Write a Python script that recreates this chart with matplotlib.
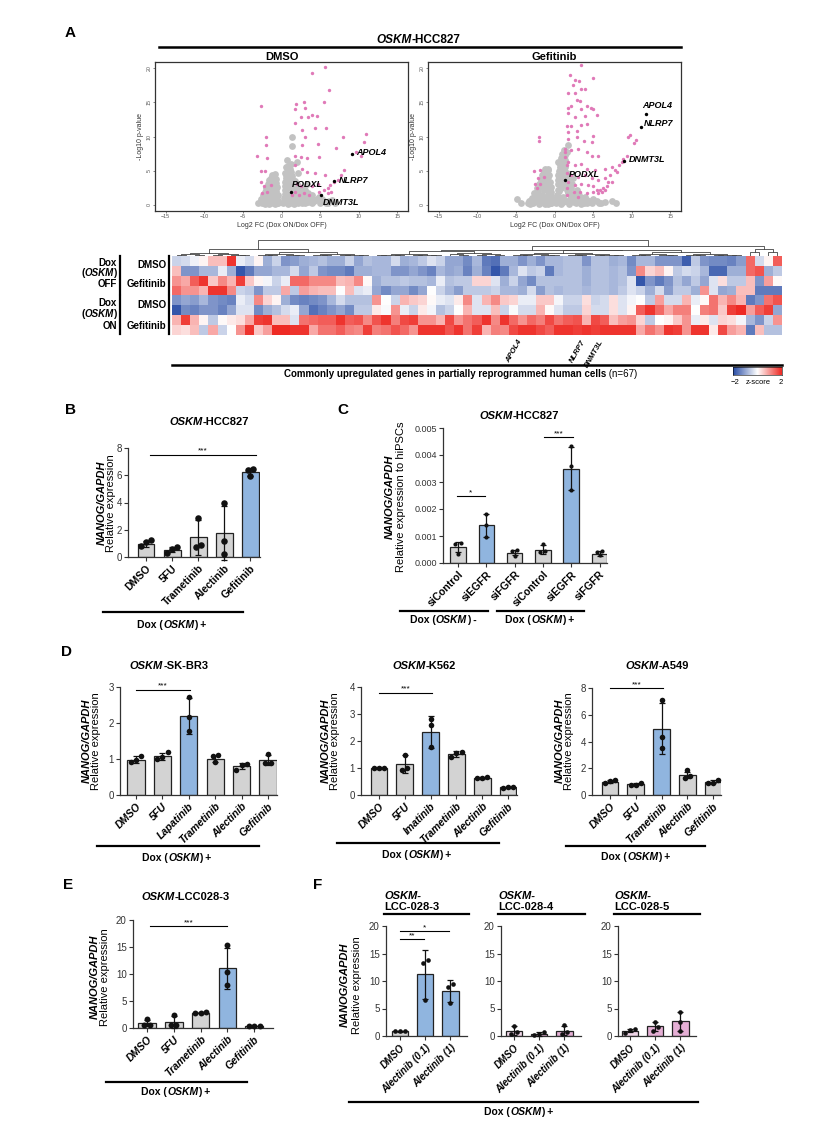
import numpy as np
import matplotlib
matplotlib.use('Agg')
import matplotlib.pyplot as plt
from matplotlib.colors import LinearSegmentedColormap
from matplotlib.lines import Line2D

plt.rcParams['font.family'] = ['Liberation Sans', 'DejaVu Sans']

# ======================= DATA =======================
# --- Volcano, DMSO ---
dmso_pink_x = [5.7, 4.0, 6.1, -2.65, 1.9, 2.9, 5.5, 1.8, 3.1, 4.0, 4.6, 3.4, 2.5, 1.8, 2.6, 4.3, 5.8, 3.0,
               10.9, 8.0, -2.0, 2.7, -2.0, 10.7, 4.7, 7.1, -3.2, 1.8, 2.5, 3.3, 4.9, 9.7, 10.3, -1.9, -2.7,
               -2.1, 1.8, 2.7, 3.3, 4.4, 5.7, 8.1, 7.7, 7.3, 6.8, 6.3, 6.0, 5.5, 4.9, -2.7, -2.3, -1.9, -2.5,
               2.0, 2.5, 1.8, 2.9, 3.6, 1.4, 2.3, 6.0, 6.4, -1.4, 4.0, 4.7]
dmso_pink_y = [20.1, 19.3, 16.8, 14.4, 14.8, 15.0, 15.0, 14.0, 14.1, 13.1, 13.0, 12.8, 12.8, 12.0, 11.0, 11.2,
               11.2, 9.9, 10.4, 9.9, 9.9, 8.7, 8.8, 9.2, 8.9, 8.3, 7.2, 7.2, 7.0, 6.9, 7.0, 7.7, 7.2, 6.8, 4.9,
               4.9, 5.8, 5.3, 4.8, 4.6, 4.3, 5.1, 4.3, 3.6, 3.4, 2.9, 2.4, 2.2, 1.9, 3.4, 2.7, 1.9, 1.7,
               3.1, 2.7, 1.9, 1.7, 1.4, 1.4, 1.4, 1.7, 1.9, 2.9, 2.7, 3.1]
dmso_gray_x = [-3.0, -2.7, -2.5, -2.3, -2.1, -2.0, -1.9, -1.8, -1.7, -1.6, -1.5, -1.4, -1.3, -1.2, -1.1, -1.0,
               -1.0, -0.9, -0.8, -0.8, -0.7, -0.6, -0.5, -0.4, -1.5, -1.2, -0.9, -2.2, -1.6, -1.3, -0.7, -1.9,
               -2.6, -2.4, -2.2, -2.0, -1.8, -1.6, -1.4, -1.2, -1.0, -0.9, -0.8, -0.7, -0.6, -0.5, -1.1, -1.4,
               -1.7, -2.0, -2.4, -1.3, -0.6, -1.8, -1.5, -1.0,
               0.2, 0.3, 0.4, 0.5, 0.6, 0.7, 0.8, 0.9, 1.0, 1.1, 1.2, 1.3, 1.4, 1.5, 1.6, 1.7, 1.8, 2.0, 2.1,
               2.3, 2.4, 2.6, 2.8, 3.0, 3.2, 3.5, 3.8, 4.2, 4.6, 5.0, 5.5, 6.0, 6.5, 7.0, 0.9, 1.6, 2.7, 0.6,
               1.1, 0.7, 1.3, 1.4, 2.0, 2.2, 1.2, 3.3, 0.5,
               0.3, 0.4, 0.5, 0.6, 0.7, 0.9, 1.0, 1.1, 1.2, 1.3, 1.5, 1.6, 1.8, 1.9, 2.0, 2.2, 2.4, 2.6, 2.9,
               3.1, 3.4, 3.6, 4.0, 4.4, 4.8, 5.2, 5.8, 6.2, 0.8, 1.4, 2.1, 3.0, 4.0, 0.4, 0.6, 0.9, 1.2]
dmso_gray_y = [0.3, 0.6, 0.2, 1.0, 0.5, 1.6, 0.2, 2.2, 1.0, 2.8, 0.4, 3.3, 1.8, 3.8, 2.5, 4.2,
               1.2, 3.6, 0.5, 2.9, 2.0, 1.2, 0.6, 0.2, 1.5, 0.6, 0.1, 0.1, 0.1, 2.6, 3.8, 1.2,
               0.9, 1.4, 1.9, 2.4, 3.0, 3.6, 4.0, 4.3, 3.0, 4.5, 1.6, 3.2, 2.6, 1.4, 0.3, 1.2,
               1.9, 0.8, 0.4, 0.9, 0.3, 0.4, 2.2, 2.0,
               0.2, 1.0, 2.2, 3.4, 4.3, 0.5, 5.0, 2.8, 4.6, 1.5, 3.8, 0.4, 4.2, 2.3, 3.1, 0.9, 3.5, 1.8, 2.8,
               0.6, 2.2, 1.4, 2.0, 0.8, 1.5, 0.4, 1.1, 0.5, 0.9, 0.3, 0.6, 0.2, 0.7, 0.3, 0.1, 0.1, 0.2, 1.7,
               5.2, 6.6, 8.6, 10.0, 6.2, 4.6, 6.0, 3.0, 0.4,
               0.6, 1.6, 2.8, 3.9, 4.8, 4.1, 3.3, 2.4, 1.0, 2.9, 3.6, 1.5, 2.6, 1.2, 3.0, 2.0, 1.0, 2.5, 1.2,
               2.2, 1.8, 0.9, 1.4, 0.7, 1.2, 0.8, 0.3, 0.5, 1.2, 0.2, 0.3, 0.3, 0.2, 4.6, 5.6, 5.7, 4.8]
dmso_genes = ['APOL4', 'NLRP7', 'PODXL', 'DNMT3L']
dmso_gene_x = [9.1, 6.8, 1.2, 5.1]
dmso_gene_y = [7.5, 3.5, 1.9, 1.4]

# --- Volcano, Gefitinib ---
gef_pink_x = [3.5, 2.0, 2.7, 3.2, 5.0, 2.4, 1.8, 2.7, 3.5, 3.9, 2.9, 1.8, 3.5, 4.7, 5.0, 1.7, 2.7, 4.0, 5.5,
              1.6, 2.2, 3.5, 4.2, 1.7, 2.9, 5.0, 4.8, 1.8, 2.9, 3.8, 9.8, 9.5, 10.3, 10.6, -2.0, -2.0, 1.4,
              2.2, 3.1, 4.2, 4.8, 5.7, 9.4, 8.7, 8.3, 7.4, 6.6, 7.8, 1.4, 1.8, 2.7, 3.5, 4.2, 5.3, -2.7, -1.9,
              -2.1, -1.4, -2.5, -1.9, -2.3, 1.6, 2.2, 3.1, 4.0, 4.8, 5.7, 6.6, 7.2, 7.4, 1.8, 2.7, 3.5, 4.4,
              5.0, 5.9, 6.8, 1.6, 2.5, 3.3, 4.2, 5.0, 5.5, 6.1, 6.6, 1.6, 3.1, 5.7, 6.3, 7.0, 8.1, 8.9, 1.4,
              1.6, 2.2, 4.2, 3.3]
gef_pink_y = [20.5, 19.0, 18.3, 18.1, 18.6, 17.6, 16.4, 16.4, 17.0, 16.9, 15.4, 14.2, 14.0, 14.1, 14.0, 13.5,
              12.8, 13.0, 13.1, 11.6, 11.6, 11.7, 11.8, 10.6, 10.8, 10.1, 9.2, 9.6, 9.9, 9.4, 10.2, 10.0, 9.1,
              9.5, 9.9, 9.4, 8.2, 8.0, 8.2, 7.7, 7.2, 7.2, 7.2, 6.3, 5.8, 5.5, 5.3, 5.1, 7.0, 6.3, 5.8, 6.0,
              5.3, 5.1, 4.9, 5.1, 3.9, 4.1, 3.1, 3.1, 2.4, 4.6, 4.3, 4.1, 4.3, 3.9, 3.6, 3.9, 4.3, 3.4, 3.4,
              2.9, 3.1, 2.9, 2.7, 2.2, 2.7, 2.4, 1.9, 1.9, 1.7, 1.9, 2.2, 1.9, 2.2, 1.4, 1.2, 1.7, 2.4, 3.4,
              4.8, 6.7, 7.7, 5.8, 14.5, 14.5, 15.2]
gef_gray_x = [-3.5, -3.0, -2.8, -2.5, -2.3, -2.1, -1.9, -1.8, -1.6, -1.5, -1.4, -1.3, -1.2, -1.1, -1.0, -0.9,
              -0.9, -0.8, -0.7, -0.6, -0.5, -0.4, -0.3, -2.0, -1.2, -1.7, -1.0, -0.8, -4.8, -4.4, -3.2,
              -3.3, -2.9, -2.6, -2.3, -2.0, -1.8, -1.6, -1.4, -1.2, -1.0, -0.9, -0.8, -0.7, -0.6, -0.5, -0.4,
              -1.1, -1.4, -1.7, -2.0, -2.5, -1.3, -0.6, -1.9, -0.5, -1.0, -3.0,
              0.2, 0.3, 0.4, 0.5, 0.6, 0.7, 0.8, 0.9, 1.0, 1.1, 1.2, 1.3, 1.4, 1.5, 1.6, 1.7, 1.8, 2.0, 2.2,
              2.5, 2.8, 3.0, 3.4, 3.8, 4.2, 4.8, 5.5, 6.0, 0.9, 1.9, 1.0, 1.6, 1.8, 1.4, 2.4, 7.5, 8.0, 0.6,
              1.2, 3.5,
              0.3, 0.4, 0.5, 0.6, 0.7, 0.8, 0.9, 1.0, 1.1, 1.2, 1.3, 1.4, 1.5, 1.6, 1.7, 1.9, 2.1, 2.3, 2.6,
              2.9, 3.2, 3.6, 4.0, 4.5, 5.0, 5.8, 6.5, 0.6, 1.1, 2.0, 2.8, 4.2, 0.5, 1.0, 1.2]
gef_gray_y = [0.3, 0.7, 0.2, 1.3, 0.5, 2.0, 0.9, 2.8, 1.5, 3.5, 0.4, 4.2, 2.4, 4.8, 3.3, 5.1,
              1.4, 4.1, 2.7, 0.8, 1.9, 0.3, 0.9, 0.1, 0.1, 0.8, 2.1, 0.1, 0.9, 0.3, 0.1,
              0.6, 1.0, 1.7, 2.4, 3.0, 3.7, 4.3, 4.8, 5.2, 4.4, 3.0, 5.3, 4.4, 3.4, 2.6, 1.3,
              1.2, 2.2, 2.7, 1.5, 0.6, 3.1, 1.9, 0.3, 0.2, 0.5, 0.2,
              0.3, 1.5, 3.0, 4.3, 0.6, 5.5, 2.4, 6.3, 4.0, 1.2, 5.2, 6.6, 2.9, 0.5, 4.6, 1.8, 3.3, 0.9, 2.4,
              0.4, 1.5, 0.6, 1.0, 0.3, 0.7, 0.3, 0.5, 0.2, 0.1, 0.1, 6.6, 7.8, 8.8, 7.3, 4.0, 0.6, 0.3, 2.0,
              3.6, 0.1,
              0.8, 2.2, 3.6, 5.0, 6.0, 6.8, 5.3, 3.0, 4.7, 6.1, 4.3, 5.5, 3.8, 2.2, 3.8, 2.6, 1.6, 3.0, 1.2,
              2.2, 1.5, 0.6, 1.1, 0.5, 0.8, 0.3, 0.4, 1.1, 0.4, 0.4, 0.3, 0.2, 6.3, 7.4, 8.0]
gef_genes = ['APOL4', 'NLRP7', 'DNMT3L', 'PODXL']
gef_gene_x = [11.9, 11.2, 9.0, 1.3]
gef_gene_y = [13.3, 11.4, 6.4, 3.6]

# --- Heatmap (z-scores, 67 genes) ---
hm_off_dmso_1 = [-0.5, -0.4, -0.15, 0.1, 0.6, 0.6, 1.9, -0.2, -0.4, 0.1, -0.9, -0.5, -1.2, -1.1, -0.9, -0.8, -0.7, -0.9, -0.9, -0.5, -1.0, -0.7,
                 -0.8, -0.8, -0.4, -0.9, -0.8, -0.6, -0.3, -0.5, -1.0, -1.0, -1.3, -0.8, -1.5, -1.6, -0.9, -0.9, -1.2, -0.9, -1.2, -0.8, -0.8, -0.7, -0.7,
                 -1.2, -0.7, -0.7, -0.9, -0.8, -1.3, -0.8, -0.8, -1.2, -1.2, -1.2, -1.8, -0.6, -1.2, -1.3, -1.3, -1.4, -1.1, 1.4, -0.4, 0.1, 1.5]
hm_off_dmso_2 = [0.6, -1.2, -1.2, -0.8, -0.8, -0.2, -0.9, -1.9, -1.5, -1.0, -1.0, -0.8, -0.8, -0.4, -1.0, -0.6, -1.2, -1.3, -1.3, -1.5, -0.9, -0.9,
                 -0.8, -0.8, -1.2, -1.2, -1.0, -1.2, -1.4, -0.8, -1.0, -0.9, -1.4, -0.9, -1.4, -1.9, -1.5, -0.8, -0.3, -0.6, -0.5, -1.5, -0.8, -0.7, -0.7,
                 -0.9, -0.7, -0.7, -0.8, -0.7, -1.2, 1.1, 0.4, 0.6, 0.1, -0.6, -0.4, -0.5, -0.8, -1.7, -1.7, -0.9, -0.9, 1.4, 1.6, -0.9, -0.6]
hm_off_gef_1 = [1.0, 0.8, 1.5, 1.9, 0.5, 1.1, 0.7, 1.8, 0.5, 0.1, -0.1, -0.5, -0.2, 1.4, 1.4, 1.1, 1.1, 1.1, 0.6, 0.7, 1.1, 0.05,
                -0.9, -0.7, -0.7, -0.6, -0.7, -0.7, -0.8, -0.2, -0.7, -0.6, -0.6, 0.4, 0.4, -0.3, -0.9, -0.5, -1.0, -1.3, -0.7, -0.7, -0.7, -0.7, -0.7,
                -0.9, -0.7, -0.7, -0.8, -0.7, -0.3, -1.9, -1.2, -1.5, -1.2, -0.7, -1.0, -0.6, -1.0, -0.3, 0.3, -0.6, -0.6, 0.6, -1.2, 0.9, 0.05]
hm_off_gef_2 = [1.4, 1.0, 1.0, 0.7, 1.9, 1.9, 1.1, -0.5, -0.6, -1.2, -0.6, -0.6, 0.8, -0.6, 0.9, 0.7, 0.6, 0.6, 0.0, 0.6, -0.3, -0.2,
                -1.0, -1.3, -1.0, -1.0, -1.3, -1.0, 0.0, -0.5, -0.8, -1.1, -0.6, -0.6, -0.6, -0.5, -0.8, -0.8, -0.9, -0.4, -1.1, -0.7, -0.8, -0.7, -0.7,
                -0.8, -0.7, -0.7, -0.8, -0.6, -0.3, -0.5, -0.9, -0.4, -1.1, -0.6, -0.6, -0.9, 1.0, -0.3, -1.0, -0.9, 0.6, 0.6, -1.5, -1.5, -1.5]
hm_on_dmso_1 = [-1.2, -1.0, -1.1, -0.8, -1.2, -1.3, -1.4, -0.2, -0.4, 1.1, 0.4, 0.1, -0.9, -1.3, -1.4, -1.3, -1.2, -0.8, -0.4, -0.7, -0.7, -0.7,
                1.0, 0.0, -0.5, 0.7, 0.5, 0.4, 0.05, -0.2, -0.3, 0.2, 1.1, -0.3, 0.7, 1.1, 0.5, 0.4, -0.2, -0.2, 0.5, 0.5, -0.1, -0.5, -0.5,
                0.3, -0.5, -0.4, 0.3, -0.3, -0.1, 0.0, -0.6, 0.9, -0.4, -0.4, 0.7, -0.2, 0.05, 1.3, 0.7, 1.1, 0.7, -1.5, -1.2, 1.3, 1.6]
hm_on_dmso_2 = [-1.9, -1.3, -1.4, -1.2, -1.2, -1.4, -1.0, -0.3, -0.3, -1.3, -0.9, -0.7, -0.4, -0.2, -1.0, -1.6, -1.4, -1.2, -1.0, -1.3, -0.6, -0.6,
                0.2, -0.05, 1.0, -0.2, -0.5, 0.2, -0.1, -0.7, -0.5, 0.0, 0.7, -0.3, -0.3, 0.6, -0.5, -0.05, -0.4, -0.4, 0.7, 0.05, -0.3, -0.6, -0.6,
                0.4, -0.4, -0.4, 0.3, -0.3, 0.1, 1.5, 1.9, 1.4, 0.8, 1.2, 1.2, 0.0, 1.2, 1.3, 0.5, 1.8, 2.0, 0.9, 1.5, 1.8, -1.0]
hm_on_gef_1 = [0.7, 1.8, 0.7, 0.1, -0.6, 0.05, 0.2, 0.3, 0.8, 1.8, 1.9, 0.6, 0.6, -0.3, 1.3, 1.4, 1.5, 1.5, 1.9, 1.5, 1.6, 1.1,
               1.6, 1.9, 1.2, 1.7, 1.8, 1.0, 1.0, 0.7, 1.7, 1.0, 1.3, 1.5, 1.9, 1.1, 1.9, 1.4, 1.0, 1.4, 1.2, 1.7, 1.3, 1.5, 1.6,
               0.7, 1.7, 1.5, 0.6, 0.9, 1.0, 0.4, -0.6, 0.0, 0.1, 0.5, 1.0, -0.2, 0.2, -0.3, 0.4, 0.3, -0.1, -0.8, -1.2, -0.5, 1.0]
hm_on_gef_2 = [0.4, 0.3, 0.6, -0.6, 0.8, -0.5, 0.0, 1.0, 1.9, 0.5, 0.9, 2.0, 2.0, 1.9, 1.9, 0.8, 1.3, 1.3, 1.5, 1.2, 1.1, 1.8,
               1.2, 1.3, 1.6, 1.4, 1.0, 1.9, 1.9, 1.9, 1.6, 1.9, 1.3, 1.8, 0.7, 1.2, 1.1, 1.7, 1.9, 1.9, 1.7, 1.5, 1.9, 1.9, 1.8,
               1.9, 1.8, 1.9, 1.9, 1.9, 1.9, 0.8, 1.3, 1.0, 1.9, 1.8, 1.0, 1.9, 1.9, 0.2, 1.7, 0.9, 0.7, -1.5, 0.6, -0.7, -0.7]
hm_gene_labels = ['APOL4', 'NLRP7', 'DNMT3L']
hm_gene_cols = [37, 44, 46]
# dendrogram: leaves (start, end, height) and nodes (left, right, height)
dendro_tree = (((0, 9, 0.2), (9, 22, 0.22), 0.45),
               ((((22, 30, 0.15), (30, 37, 0.2), 0.3), ((37, 50, 0.2), (50, 63, 0.25), 0.35), 0.4),
                (63, 67, 0.45), 0.6), 1.0)

# --- B ---
b_cats = ['DMSO', '5FU', 'Trametinib', 'Alectinib', 'Gefitinib']
b_mean = [0.95, 0.55, 1.45, 1.75, 6.25]
b_sd = [0.22, 0.2, 1.3, 2.0, 0.28]
b_pts = [[1.22, 0.78, 1.07], [0.73, 0.3, 0.58], [2.86, 0.73, 0.9], [4.0, 1.15, 0.22], [6.48, 6.4, 5.92]]

# --- C ---
c_cats = ['siControl', 'siEGFR', 'siFGFR', 'siControl', 'siEGFR', 'siFGFR']
c_mean = [0.00058, 0.0014, 0.00038, 0.0005, 0.0035, 0.00035]
c_sd = [0.00018, 0.00043, 0.0001, 0.00018, 0.0008, 0.00008]
c_pts = [[0.00075, 0.00070, 0.00035], [0.00181, 0.0014, 0.00097], [0.00047, 0.00046, 0.00025],
         [0.0007, 0.00043, 0.0004], [0.00432, 0.0036, 0.0027], [0.00045, 0.0004, 0.00028]]

# --- D ---
d1_cats = ['DMSO', '5FU', 'Lapatinib', 'Trametinib', 'Alectinib', 'Gefitinib']
d1_mean = [0.98, 1.08, 2.2, 1.0, 0.8, 0.97]
d1_sd = [0.09, 0.1, 0.5, 0.09, 0.08, 0.15]
d1_pts = [[1.09, 0.93, 0.97], [1.19, 1.06, 1.0], [2.72, 2.17, 1.77], [1.11, 1.07, 0.93], [0.85, 0.82, 0.7], [1.14, 0.9, 0.88]]
d2_cats = ['DMSO', '5FU', 'Imatinib', 'Trametinib', 'Alectinib', 'Gefitinib']
d2_mean = [1.0, 1.15, 2.33, 1.52, 0.63, 0.28]
d2_sd = [0.02, 0.33, 0.6, 0.1, 0.02, 0.02]
d2_pts = [[1.0, 1.0, 1.0], [1.5, 0.99, 0.93], [2.81, 2.6, 1.77], [1.6, 1.55, 1.42], [0.65, 0.63, 0.62], [0.3, 0.28, 0.27]]
d3_cats = ['DMSO', '5FU', 'Trametinib', 'Alectinib', 'Gefitinib']
d3_mean = [1.0, 0.82, 4.95, 1.5, 0.98]
d3_sd = [0.12, 0.09, 1.9, 0.25, 0.12]
d3_pts = [[1.1, 0.9, 1.08], [0.9, 0.75, 0.78], [7.08, 4.33, 3.5], [1.85, 1.4, 1.28], [1.15, 0.92, 0.9]]

# --- E ---
e_cats = ['DMSO', '5FU', 'Trametinib', 'Alectinib', 'Gefitinib']
e_mean = [0.9, 1.1, 2.85, 11.1, 0.4]
e_sd = [0.6, 1.1, 0.15, 3.8, 0.05]
e_pts = [[1.75, 0.6, 0.55], [2.35, 0.5, 0.55], [3.05, 2.85, 2.75], [15.4, 10.4, 8.0], [0.4, 0.4, 0.4]]

# --- F ---
f_cats = ['DMSO', 'Alectinib (0.1)', 'Alectinib (1)']
f1_mean = [0.9, 11.2, 8.1]
f1_sd = [0.1, 4.4, 2.0]
f1_pts = [[0.9, 0.9, 0.9], [13.9, 13.3, 6.5], [9.4, 9.0, 6.0]]
f2_mean = [0.97, 0.35, 1.0]
f2_sd = [0.8, 0.3, 0.9]
f2_pts = [[1.8, 0.8, 0.3], [0.7, 0.3, 0.1], [2.0, 0.7, 0.3]]
f3_mean = [1.0, 1.75, 2.65]
f3_sd = [0.35, 0.8, 1.8]
f3_pts = [[1.3, 1.1, 0.6], [2.6, 1.6, 1.0], [4.3, 2.6, 1.0]]
f_titles = ['LCC-028-3', 'LCC-028-4', 'LCC-028-5']

# ======================= FIGURE =======================
W, H = 824, 1124
fig = plt.figure(figsize=(W / 100, H / 100), dpi=100)
renderer = fig.canvas.get_renderer()

GRAY = '#d3d3d3'
BLUE = '#90b5df'
PINK = '#e5afd5'
LPINK = '#f0d6e8'
VPINK = '#e07ab8'


def box(x0, y0, x1, y1):
    return [x0 / W, 1 - y1 / H, (x1 - x0) / W, (y1 - y0) / H]


def ftext(x, y, s, **kw):
    return fig.text(x / W, 1 - y / H, s, **kw)


def hline(x0, x1, y, lw=1.6):
    fig.add_artist(Line2D([x0 / W, x1 / W], [1 - y / H, 1 - y / H], color='black', lw=lw,
                          transform=fig.transFigure))


def vline(x, y0, y1, lw=1.6):
    fig.add_artist(Line2D([x / W, x / W], [1 - y0 / H, 1 - y1 / H], color='black', lw=lw,
                          transform=fig.transFigure))


def rich(x, y, parts, size, ha='center', va='center'):
    objs, widths = [], []
    for t, st in parts:
        o = fig.text(0, 1 - y / H, t, fontsize=size,
                     fontweight='bold' if 'b' in st else 'normal',
                     fontstyle='italic' if 'i' in st else 'normal', va=va, ha='left')
        widths.append(o.get_window_extent(renderer=renderer).width)
        objs.append(o)
    total = sum(widths)
    cur = x - total / 2 if ha == 'center' else (x if ha == 'left' else x - total)
    for o, w in zip(objs, widths):
        o.set_x(cur / W)
        cur += w


def dox(x, y, sign, size=7.5):
    rich(x, y, [('Dox (', 'b'), ('OSKM', 'bi'), (') ' + sign, 'b')], size)


# panel letters
for L, (lx, ly) in {'A': (70, 33), 'B': (70, 410), 'C': (343, 410), 'D': (67, 652),
                    'E': (68, 885), 'F': (318, 885)}.items():
    ftext(lx, ly, L, fontsize=11, fontweight='bold', ha='center', va='center')

# ---------------- A: volcano plots ----------------
rich(418, 40, [('OSKM', 'bi'), ('-HCC827', 'b')], 8.5)
hline(159, 681, 47, lw=1.8)


def volcano(x0, x1, title, gx, gy, px, py, genes, genx, geny, offs):
    ax = fig.add_axes(box(x0, 62, x1, 211))
    ax.scatter(gx, gy, s=24, c='#c2c2c2', linewidths=0, zorder=1)
    ax.scatter(px, py, s=6, c=VPINK, linewidths=0, zorder=2)
    ax.scatter(genx, geny, s=6, c='black', linewidths=0, zorder=3)
    for g, x, y, (dx, dy) in zip(genes, genx, geny, offs):
        ax.text(x + dx, y + dy, g, fontsize=6.5, fontweight='bold', fontstyle='italic', va='center', ha='left')
    ax.set_xlim(-16.4, 16.4)
    ax.set_ylim(-0.9, 20.9)
    ax.set_xticks([-15, -10, -5, 0, 5, 10, 15])
    ax.set_yticks([0, 5, 10, 15, 20])
    ax.tick_params(labelsize=3.8, length=1.5, width=0.5, colors='#555555', pad=1)
    for lab in ax.get_yticklabels():
        lab.set_rotation(90)
        lab.set_va('center')
    for s in ax.spines.values():
        s.set_linewidth(0.9)
        s.set_color('#333333')
    ax.set_xlabel('Log2 FC (Dox ON/Dox OFF)', fontsize=5, labelpad=1.5, color='#333333')
    ax.set_ylabel('-Log10 p-value', fontsize=5, labelpad=1.5, color='#333333')
    ax.set_title(title, fontsize=8, fontweight='bold', pad=1.5)
    return ax


volcano(155, 408, 'DMSO', dmso_gray_x, dmso_gray_y, dmso_pink_x, dmso_pink_y, dmso_genes,
        dmso_gene_x, dmso_gene_y, [(0.6, 0.1), (0.6, 0.1), (0.1, 1.1), (0.2, -1.1)])
volcano(428, 681, 'Gefitinib', gef_gray_x, gef_gray_y, gef_pink_x, gef_pink_y, gef_genes,
        gef_gene_x, gef_gene_y, [(-0.5, 1.2), (0.4, 0.5), (0.6, 0.2), (0.5, 0.9)])

# ---------------- A: heatmap ----------------
hm = np.array([hm_off_dmso_1, hm_off_dmso_2, hm_off_gef_1, hm_off_gef_2,
               hm_on_dmso_1, hm_on_dmso_2, hm_on_gef_1, hm_on_gef_2])
ncol = hm.shape[1]
cmap = LinearSegmentedColormap.from_list('bwr2', ['#2a4ea6', '#ffffff', '#ee2a24'])
axh = fig.add_axes(box(172, 256, 782, 335))
axh.imshow(hm, cmap=cmap, vmin=-2, vmax=2, aspect='auto', interpolation='nearest')
axh.set_axis_off()
for g, c in zip(hm_gene_labels, hm_gene_cols):
    axh.text(c + 0.4, 7.9, g, rotation=60, ha='right', va='top', rotation_mode='anchor',
             fontsize=5.5, fontweight='bold', fontstyle='italic')

# dendrogram
axd = fig.add_axes(box(172, 239, 782, 256))
axd.set_xlim(-0.5, ncol - 0.5)
axd.set_ylim(0, 1.05)
axd.set_axis_off()


def draw_flat(a, b, h):
    if b - a == 1:
        return a, 0.0
    m = (a + b) // 2
    xl, hl = draw_flat(a, m, h * 0.6)
    xr, hr = draw_flat(m, b, h * 0.6)
    axd.plot([xl, xl, xr, xr], [hl, h, h, hr], color='#444444', lw=0.6)
    return (xl + xr) / 2, h


def draw_node(t):
    if not isinstance(t[0], tuple):
        return draw_flat(*t)
    xl, hl = draw_node(t[0])
    xr, hr = draw_node(t[1])
    h = t[2]
    axd.plot([xl, xl, xr, xr], [hl, h, h, hr], color='#444444', lw=0.6)
    return (xl + xr) / 2, h


draw_node(dendro_tree)

# row labels
for (y0, y1, state, ys) in [(256, 294, 'OFF', (263, 273, 284)), (296, 334, 'ON', (303, 314, 326))]:
    ftext(117, ys[0], 'Dox', fontsize=7, fontweight='bold', ha='right', va='center')
    rich(117, ys[1], [('(', 'b'), ('OSKM', 'bi'), (')', 'b')], 7, ha='right')
    ftext(117, ys[2], state, fontsize=7, fontweight='bold', ha='right', va='center')
    vline(120, y0, y1, lw=1.6)
    vline(169, y0, y1, lw=1.6)
    ftext(166, ys[0] + 2, 'DMSO', fontsize=7, fontweight='bold', ha='right', va='center')
    ftext(166, ys[2], 'Gefitinib', fontsize=7, fontweight='bold', ha='right', va='center')

hline(172, 782, 365, lw=1.8)
rich(461, 374, [('Commonly upregulated genes in partially reprogrammed human cells', 'b'), (' (n=67)', 'r')], 7)

# colorbar
axc = fig.add_axes(box(733, 367, 782, 375))
axc.imshow(np.linspace(-2, 2, 100)[None, :], cmap=cmap, aspect='auto', vmin=-2, vmax=2)
axc.set_xticks([])
axc.set_yticks([])
for s in axc.spines.values():
    s.set_linewidth(0.4)
ftext(735, 382, '\u22122', fontsize=5.5, ha='center', va='center')
ftext(758, 382, 'z-score', fontsize=5.5, ha='center', va='center')
ftext(781, 382, '2', fontsize=5.5, ha='center', va='center')


# ---------------- bar panels ----------------
def spread(vals, pxu, thr=5.0, step=0.2):
    vals = np.asarray(vals, float)
    order = np.argsort(vals)
    offs = np.zeros(len(vals))
    groups, cur = [], [order[0]]
    for k in order[1:]:
        if (vals[k] - vals[cur[-1]]) * pxu < thr:
            cur.append(k)
        else:
            groups.append(cur)
            cur = [k]
    groups.append(cur)
    for g in groups:
        n = len(g)
        for j, k in enumerate(g):
            offs[k] = (j - (n - 1) / 2) * step
    return offs


def bar_panel(axis_x, end_x, top_px, bot_px, ymax, cat0, step, cats, means, sds, pts, colors,
              yticks, barw=0.65, ms=18, thr=5.0, spread_step=0.2, italic=False, fmt=None,
              tick_fs=7, xlab_fs=7.5):
    ax = fig.add_axes(box(axis_x, top_px, end_x, bot_px))
    n = len(cats)
    xs = np.arange(n)
    ax.set_xlim((axis_x - cat0) / step, (end_x - cat0) / step)
    ax.set_ylim(0, ymax)
    ax.bar(xs, means, width=barw, color=colors, edgecolor='#222222', linewidth=0.9, zorder=2)
    ax.errorbar(xs, means, yerr=sds, fmt='none', ecolor='#111111', elinewidth=0.9,
                capsize=2.5, capthick=0.9, zorder=3, clip_on=False)
    pxu = (bot_px - top_px) / ymax
    for i, p in enumerate(pts):
        off = spread(p, pxu, thr, spread_step)
        ax.scatter(i + off, p, s=ms, c='#111111', zorder=4, linewidths=0, clip_on=False)
    for s in ['top', 'right']:
        ax.spines[s].set_visible(False)
    for s in ['left', 'bottom']:
        ax.spines[s].set_linewidth(0.9)
        ax.spines[s].set_color('#333333')
    ax.set_xticks(xs)
    ax.set_xticklabels(cats, rotation=45, ha='right', rotation_mode='anchor', fontweight='bold',
                       fontstyle='italic' if italic else 'normal', fontsize=xlab_fs)
    ax.set_yticks(yticks)
    if fmt:
        ax.set_yticklabels([fmt % v for v in yticks])
    ax.tick_params(axis='y', labelsize=tick_fs, length=3, width=0.8, colors='#333333', pad=1.5)
    ax.tick_params(axis='x', length=3, width=0.8, colors='#333333', pad=1.5)
    for lab in ax.get_xticklabels():
        lab.set_color('black')
    return ax


def sig(ax, x1, x2, y, txt, fs=6):
    ax.plot([x1, x2], [y, y], color='black', lw=0.8, clip_on=False)
    ax.text((x1 + x2) / 2, y, txt, ha='center', va='bottom', fontsize=fs)


def ylab(x1, x2, yc, second, size=8):
    ftext(x1, yc, 'NANOG/GAPDH', rotation=90, fontsize=size, fontweight='bold', fontstyle='italic',
          ha='center', va='center')
    ftext(x2, yc, second, rotation=90, fontsize=size, ha='center', va='center')


# B
axB = bar_panel(128, 260, 448, 557, 8, 146, 26.1, b_cats, b_mean, b_sd, b_pts,
                [GRAY] * 4 + [BLUE], [0, 2, 4, 6, 8], ms=22, thr=6)
sig(axB, 0.15, 4.2, 7.5, '***')
rich(209, 422, [('OSKM', 'bi'), ('-HCC827', 'b')], 8)
ylab(102, 111, 503, 'Relative expression')
hline(103, 243, 612)
dox(172, 625, '+')

# C
axC = bar_panel(443, 607, 428, 563, 0.005, 458, 28.3, c_cats, c_mean, c_sd, c_pts,
                [GRAY, BLUE, GRAY, GRAY, BLUE, GRAY], [0, 0.001, 0.002, 0.003, 0.004, 0.005],
                barw=0.55, ms=9, thr=3, spread_step=0.18, fmt='%.3f', tick_fs=6.5)
sig(axC, -0.05, 0.95, 0.00248, '*')
sig(axC, 3.05, 4.05, 0.00467, '***')
rich(519, 416, [('OSKM', 'bi'), ('-HCC827', 'b')], 8)
ylab(390, 401, 497, 'Relative expression to hiPSCs')
hline(400, 488, 611)
hline(497, 584, 611)
dox(443, 620, '-')
dox(540, 620, '+')

# D
axD1 = bar_panel(120, 277, 687, 795, 3, 136, 26.4, d1_cats, d1_mean, d1_sd, d1_pts,
                 [GRAY, GRAY, BLUE, GRAY, GRAY, GRAY], [0, 1, 2, 3], ms=16, thr=5, italic=True)
sig(axD1, 0.0, 2.05, 2.93, '***')
rich(169, 666, [('OSKM', 'bi'), ('-SK-BR3', 'b')], 8)
ylab(87, 96, 741, 'Relative expression')
hline(97, 259, 846)
dox(177, 858, '+')

axD2 = bar_panel(361, 517, 687, 795, 4, 379, 25.8, d2_cats, d2_mean, d2_sd, d2_pts,
                 [GRAY, GRAY, BLUE, GRAY, GRAY, GRAY], [0, 1, 2, 3, 4], ms=16, thr=5, italic=True)
sig(axD2, 0.0, 2.05, 3.79, '***')
rich(424, 666, [('OSKM', 'bi'), ('-K562', 'b')], 8)
ylab(326, 335, 741, 'Relative expression')
hline(337, 499, 843)
dox(417, 855, '+')

axD3 = bar_panel(592, 721, 688, 795, 8, 610, 25.8, d3_cats, d3_mean, d3_sd, d3_pts,
                 [GRAY, GRAY, BLUE, GRAY, GRAY], [0, 2, 4, 6, 8], ms=16, thr=5, italic=True)
sig(axD3, 0.0, 2.05, 8.0, '***')
rich(657, 666, [('OSKM', 'bi'), ('-A549', 'b')], 8)
ylab(560, 569, 741, 'Relative expression')
hline(566, 705, 846)
dox(636, 857, '+')

# E
axE = bar_panel(133, 273, 920, 1028, 20, 147, 26.8, e_cats, e_mean, e_sd, e_pts,
                [GRAY, GRAY, GRAY, BLUE, GRAY], [0, 5, 10, 15, 20], ms=18, thr=5, italic=True)
sig(axE, 0.1, 3.0, 18.9, '***')
rich(186, 897, [('OSKM', 'bi'), ('-LCC028-3', 'b')], 8)
ylab(95, 105, 977, 'Relative expression')
hline(106, 247, 1082)
dox(176, 1092, '+')

# F
f_specs = [(386, 467, 400, f1_mean, f1_sd, f1_pts, [GRAY, BLUE, BLUE], 384, 469),
           (501, 581, 514, f2_mean, f2_sd, f2_pts, [LPINK, PINK, PINK], 498, 585),
           (618, 696, 630, f3_mean, f3_sd, f3_pts, [LPINK, PINK, PINK], 614, 700)]
f_axes = []
for (ax_x, end_x, c0, mn, sd, pt, cols, tx0, tx1), tt in zip(f_specs, f_titles):
    a = bar_panel(ax_x, end_x, 926, 1036, 20, c0, 25.2, f_cats, mn, sd, pt, cols,
                  [0, 5, 10, 15, 20], barw=0.65, ms=11, thr=4, italic=True, tick_fs=7, xlab_fs=7)
    f_axes.append(a)
    ftext(tx0, 896, 'OSKM-', fontsize=8, fontweight='bold', fontstyle='italic', ha='left', va='center')
    ftext(tx0, 907, tt, fontsize=8, fontweight='bold', ha='left', va='center')
    hline(tx0, tx1, 914)
sig(f_axes[0], 0.0, 0.95, 17.6, '**')
sig(f_axes[0], 0.0, 1.95, 19.1, '*')
ylab(345, 357, 985, 'Relative expression')
hline(349, 698, 1102)
dox(519, 1112, '+')

fig.savefig('out.png', dpi=100)
